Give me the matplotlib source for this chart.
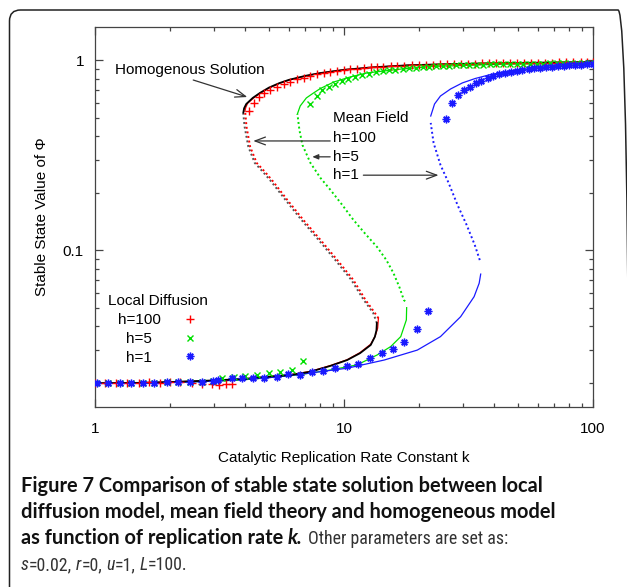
import matplotlib
matplotlib.use('Agg')
import matplotlib.pyplot as plt
from matplotlib import font_manager as fm
from matplotlib.patches import FancyBboxPatch
from matplotlib.transforms import IdentityTransform

# ---------------- data ----------------
# Homogeneous solution (black)
homo_lower_k = [1.0, 1.5, 2.0, 3.0, 4.0, 5.06, 6.09, 7.33, 8.83, 10.3, 11.6, 12.8, 13.3, 13.5, 13.55]
homo_lower_phi = [0.0200, 0.0201, 0.0203, 0.0207, 0.0211, 0.0217, 0.0221, 0.0230, 0.0247, 0.0265, 0.0288, 0.0318, 0.0351, 0.0380, 0.0415]
homo_mid_k = [13.55, 13.1, 12.0, 10.7, 9.23, 7.89, 6.74, 5.81, 5.11, 4.74, 4.38, 4.13, 3.99, 3.94]
homo_mid_phi = [0.0415, 0.0469, 0.0549, 0.070, 0.089, 0.114, 0.145, 0.185, 0.230, 0.258, 0.289, 0.351, 0.447, 0.525]
homo_up_k = [3.94, 3.97, 4.05, 4.3, 4.6, 5.0, 5.5, 6.0, 7.0, 8.0, 10.0, 13.0, 18.0, 25.0, 35.0, 50.0, 70.0, 100.0]
homo_up_phi = [0.53, 0.56, 0.59, 0.635, 0.675, 0.72, 0.76, 0.79, 0.83, 0.858, 0.893, 0.92, 0.943, 0.955, 0.964, 0.971, 0.976, 0.981]

# Mean field h=100 (red)
mf100_lower_k = [1.0, 1.5, 2.0, 3.0, 4.0, 5.06, 6.09, 7.33, 8.83, 10.3, 11.6, 12.8, 13.35, 13.65, 13.75]
mf100_lower_phi = [0.0200, 0.0201, 0.0203, 0.0207, 0.0211, 0.0217, 0.0222, 0.0231, 0.0248, 0.0266, 0.0290, 0.0321, 0.0355, 0.0390, 0.0440]
mf100_mid_k = [13.75, 13.3, 12.2, 10.9, 9.40, 8.03, 6.86, 5.91, 5.20, 4.83, 4.46, 4.20, 4.06, 4.01]
mf100_mid_phi = [0.0440, 0.0469, 0.0549, 0.070, 0.089, 0.114, 0.145, 0.185, 0.230, 0.258, 0.289, 0.351, 0.447, 0.536]
mf100_up_k = [4.0, 4.03, 4.1, 4.35, 4.65, 5.05, 5.55, 6.05, 7.05, 8.05, 10.05, 13.05, 18.0, 25.0, 35.0, 50.0, 70.0, 100.0]
mf100_up_phi = [0.54, 0.565, 0.595, 0.637, 0.677, 0.72, 0.76, 0.79, 0.83, 0.858, 0.893, 0.92, 0.943, 0.955, 0.964, 0.971, 0.976, 0.981]

# Mean field h=5 (green)
mf5_lower_k = [1.0, 2.0, 3.0, 4.0, 4.76, 6.48, 8.83, 11.3, 13.6, 15.4, 16.9, 17.8, 17.85]
mf5_lower_phi = [0.0200, 0.0202, 0.0205, 0.0209, 0.0213, 0.0221, 0.0235, 0.0250, 0.0282, 0.0312, 0.0352, 0.0431, 0.0500]
mf5_mid_k = [17.6, 17.4, 16.7, 15.8, 14.8, 13.6, 12.2, 10.9, 9.86, 8.83, 8.04, 7.33, 6.81, 6.62, 6.50]
mf5_mid_phi = [0.054, 0.0548, 0.064, 0.076, 0.089, 0.104, 0.122, 0.145, 0.173, 0.208, 0.241, 0.289, 0.359, 0.431, 0.523]
mf5_up_k = [6.50, 6.67, 7.06, 7.54, 8.04, 9.12, 10.6, 12.4, 16.8, 22.8, 42.6, 100.0]
mf5_up_phi = [0.523, 0.576, 0.635, 0.674, 0.712, 0.771, 0.819, 0.860, 0.900, 0.930, 0.955, 0.965]

# Mean field h=1 (blue)
mf1_lower_k = [1.0, 2.0, 3.0, 4.0, 5.0, 6.68, 10.3, 14.5, 19.7, 24.4, 29.4, 33.3, 34.9, 35.4]
mf1_lower_phi = [0.0200, 0.0202, 0.0205, 0.0209, 0.0214, 0.0223, 0.0240, 0.0265, 0.0299, 0.0352, 0.0448, 0.0571, 0.0672, 0.0751]
mf1_mid_k = [35.1, 33.5, 31.1, 28.6, 26.3, 24.4, 22.9, 22.3]
mf1_mid_phi = [0.089, 0.107, 0.136, 0.173, 0.227, 0.282, 0.368, 0.469]
mf1_up_k = [22.3, 23.1, 24.4, 26.8, 29.9, 33.7, 38.9, 46.7, 58.6, 74.5, 100.0]
mf1_up_phi = [0.510, 0.590, 0.650, 0.708, 0.762, 0.804, 0.844, 0.880, 0.913, 0.932, 0.950]

# Local diffusion simulations
ld100_k = [1.0, 1.1, 1.21, 1.35, 1.5, 1.65, 1.82, 2.0, 2.2, 2.45, 2.7, 2.95, 3.15, 3.35, 3.55,
           4.14, 4.34, 4.54, 4.76, 5.06, 5.38, 5.72, 6.09, 6.48, 6.88,
           7.32, 7.79, 8.29, 8.82, 9.38, 9.97, 10.6, 11.3, 12.0, 12.8,
           13.6, 14.4, 15.4, 16.4, 17.4, 18.8, 20.0, 21.4, 22.8, 24.3,
           26.0, 27.7, 29.6, 31.6, 33.7, 35.9, 38.3, 40.9, 43.6, 46.6,
           49.7, 53.0, 56.6, 60.4, 64.4, 68.7, 73.3, 78.2, 83.5, 89.1,
           95.0, 100.0]
ld100_phi = [0.0200, 0.0201, 0.0200, 0.0201, 0.0200, 0.0202, 0.0201, 0.0202, 0.0203, 0.0201, 0.0199, 0.0198, 0.0197, 0.0198, 0.0199,
             0.544, 0.595, 0.640, 0.672, 0.700, 0.728, 0.752, 0.773, 0.796, 0.812,
             0.829, 0.846, 0.859, 0.870, 0.881, 0.891, 0.899, 0.906, 0.913, 0.921,
             0.924, 0.928, 0.932, 0.935, 0.939, 0.943, 0.946, 0.949, 0.951, 0.953,
             0.955, 0.957, 0.959, 0.961, 0.963, 0.964, 0.966, 0.967, 0.968, 0.969,
             0.970, 0.971, 0.972, 0.973, 0.974, 0.975, 0.976, 0.977, 0.978, 0.979,
             0.980, 0.981]

ld5_k = [1.0, 1.13, 1.26, 1.40, 1.56, 1.73, 1.94, 2.16, 2.41, 2.68, 2.99, 3.23, 3.60, 4.01, 4.47, 4.98, 5.55, 6.18, 6.87,
         7.33, 7.8, 8.17, 8.69, 9.23, 9.81, 10.4, 11.1, 11.8, 12.6,
         13.4, 14.3, 15.2, 16.1, 17.2, 18.3, 19.4, 20.7, 22.0, 23.4,
         24.9, 26.5, 28.2, 30.0, 31.9, 34.0, 36.2, 38.5, 40.9, 43.5,
         46.3, 49.3, 52.5, 55.8, 59.4, 63.2, 67.2, 71.5, 76.1, 81.0,
         86.2, 91.7, 97.6]
ld5_phi = [0.0200, 0.0201, 0.0200, 0.0201, 0.0200, 0.0201, 0.0202, 0.0203, 0.0202, 0.0204, 0.0205, 0.0212, 0.0215, 0.0218, 0.0221, 0.0226, 0.0230, 0.0235, 0.0263,
           0.592, 0.650, 0.695, 0.725, 0.755, 0.778, 0.800, 0.820, 0.837, 0.852,
           0.865, 0.876, 0.886, 0.894, 0.902, 0.909, 0.915, 0.920, 0.925, 0.930,
           0.934, 0.938, 0.941, 0.944, 0.947, 0.949, 0.951, 0.953, 0.955, 0.957,
           0.958, 0.959, 0.960, 0.961, 0.962, 0.963, 0.964, 0.965, 0.966, 0.967,
           0.967, 0.968, 0.969]

ld1_k = [1.02, 1.13, 1.26, 1.40, 1.56, 1.73, 1.94, 2.16, 2.41, 2.68, 2.99, 3.13, 3.54, 3.88, 4.30,
         4.79, 5.37, 5.98, 6.66, 7.42, 8.26, 9.20, 10.25, 11.41, 12.72, 14.17, 15.78, 17.42, 19.59, 21.8,
         25.8, 27.2, 28.7, 30.3, 32.0, 33.8, 35.6, 37.7, 39.8, 42.0, 44.2, 46.8, 49.4,
         52.1, 55.1, 58.0, 61.4, 64.7, 68.4, 72.1, 76.2, 80.3, 84.9, 89.5, 94.6, 99.7]
ld1_phi = [0.0200, 0.0200, 0.0200, 0.0200, 0.0201, 0.0201, 0.0202, 0.0203, 0.0203, 0.0204, 0.0206, 0.0207, 0.0212, 0.0212, 0.0212,
           0.0214, 0.0217, 0.0223, 0.0220, 0.0229, 0.0233, 0.0240, 0.0247, 0.0253, 0.0271, 0.0288, 0.0302, 0.0329, 0.0385, 0.0482,
           0.49, 0.60, 0.658, 0.70, 0.728, 0.759, 0.783, 0.806, 0.829, 0.846, 0.857, 0.870, 0.883,
           0.891, 0.902, 0.910, 0.916, 0.924, 0.928, 0.935, 0.939, 0.943, 0.947, 0.950, 0.955, 0.958]

legend_labels = ['h=100', 'h=5', 'h=1']
x_ticks = [1, 10, 100]
x_tick_labels = ['1', '10', '100']
y_ticks = [0.1, 1]
y_tick_labels = ['0.1', '1']

# ---------------- figure ----------------
W, H = 627, 587
fig = plt.figure(figsize=(W / 100, H / 100), dpi=100)
ax = fig.add_axes([95 / W, 1 - 407 / H, (593 - 95) / W, (407 - 27) / H])
ax.set_xscale('log')
ax.set_yscale('log')
ax.set_xlim(1, 100)
ax.set_ylim(0.015, 1.5)

FONT = 'Liberation Sans'
FS = 11
RED, GREEN, BLUE = '#ff0000', '#00e000', '#1a1aff'
dot = (0, (1, 1.4))

ax.plot(homo_lower_k, homo_lower_phi, color='black', lw=1.3, zorder=3)
ax.plot(homo_mid_k, homo_mid_phi, color='#555555', lw=1.4, ls=dot, zorder=2)
ax.plot(homo_up_k, homo_up_phi, color='black', lw=1.3, zorder=3)

for (lk, lp, mk, mp, uk, up, c) in [
        (mf100_lower_k, mf100_lower_phi, mf100_mid_k, mf100_mid_phi, mf100_up_k, mf100_up_phi, RED),
        (mf5_lower_k, mf5_lower_phi, mf5_mid_k, mf5_mid_phi, mf5_up_k, mf5_up_phi, GREEN),
        (mf1_lower_k, mf1_lower_phi, mf1_mid_k, mf1_mid_phi, mf1_up_k, mf1_up_phi, BLUE)]:
    ax.plot(lk, lp, color=c, lw=0.9, zorder=2.5)
    ax.plot(mk, mp, color=c, lw=1.4, ls=dot, zorder=2.5)
    ax.plot(uk, up, color=c, lw=0.9, zorder=2.5)

h100, = ax.plot(ld100_k, ld100_phi, ls='none', marker='+', ms=6, mew=1.0, color=RED, zorder=4)
h5, = ax.plot(ld5_k, ld5_phi, ls='none', marker='x', ms=5, mew=1.0, color=GREEN, zorder=4)
h1, = ax.plot(ld1_k, ld1_phi, ls='none', marker=(8, 2, 0), ms=5.5, mew=1.0, color=BLUE, zorder=4)

# axes styling
for s in ax.spines.values():
    s.set_color('#444444')
    s.set_linewidth(0.9)
ax.set_xticks(x_ticks)
ax.set_xticklabels(x_tick_labels)
ax.set_xticks([2, 3, 4, 5, 6, 7, 8, 9, 20, 30, 40, 50, 60, 70, 80, 90], minor=True)
ax.set_yticks(y_ticks)
ax.set_yticklabels(y_tick_labels)
ax.set_yticks([0.02, 0.03, 0.04, 0.05, 0.06, 0.07, 0.08, 0.09, 0.2, 0.3, 0.4, 0.5, 0.6, 0.7, 0.8, 0.9], minor=True)
ax.yaxis.set_minor_formatter(plt.NullFormatter())
ax.xaxis.set_minor_formatter(plt.NullFormatter())
ax.tick_params(which='both', direction='in', top=True, right=True, color='#444444', width=0.9)
ax.tick_params(which='major', length=6)
ax.tick_params(which='minor', length=3)
ax.tick_params(axis='x', which='major', pad=10.5)
ax.tick_params(axis='y', which='major', pad=8)
for lab in ax.get_xticklabels() + ax.get_yticklabels():
    lab.set_fontfamily(FONT)
    lab.set_fontsize(FS)

ax.set_xlabel('Catalytic Replication Rate Constant k', fontfamily=FONT, fontsize=FS)
ax.xaxis.set_label_coords(0.5, -0.116)
ax.set_ylabel('Stable State Value of Φ', fontfamily=FONT, fontsize=FS)
ax.yaxis.set_label_coords(-0.092, 0.5)

# annotations
tk = dict(fontfamily=FONT, fontsize=FS, va='center', ha='left')
ax.text(1.204, 0.891, 'Homogenous Solution', **tk)
ax.text(9.07, 0.495, 'Mean Field', **tk)
ax.text(9.07, 0.393, 'h=100', **tk)
ax.text(9.07, 0.312, 'h=5', **tk)
ax.text(9.07, 0.249, 'h=1', **tk)
arw = dict(arrowstyle='->,head_length=0.75,head_width=0.28', color='#333333', lw=0.9, shrinkA=0, shrinkB=0)
ax.annotate('', xy=(4.09, 0.642), xytext=(2.48, 0.789), arrowprops=arw)
ax.annotate('', xy=(4.32, 0.377), xytext=(8.80, 0.377), arrowprops=arw)
ax.annotate('', xy=(7.46, 0.311), xytext=(8.80, 0.311),
            arrowprops=dict(arrowstyle='-|>,head_length=0.35,head_width=0.15', color='#333333', lw=0.9,
                            shrinkA=0, shrinkB=0))
ax.annotate('', xy=(23.97, 0.249), xytext=(11.96, 0.249), arrowprops=arw)

# legend: keys via matplotlib legend, labels re-drawn centred like gnuplot
ax.text((108 - 95) / 498, (407 - 301) / 380, 'Local Diffusion', transform=ax.transAxes,
        fontfamily=FONT, fontsize=FS, ha='left', va='center')
leg = ax.legend(handles=[h100, h5, h1], labels=legend_labels, loc='upper left',
                bbox_to_anchor=((117 - 95) / 498, (407 - 313) / 380), frameon=False,
                markerfirst=False, prop={'family': FONT, 'size': FS},
                borderpad=0, borderaxespad=0, labelspacing=0.32, handlelength=2.0, handletextpad=0.95)
fig.canvas.draw()
renderer = fig.canvas.get_renderer()
centres = []
for t in leg.get_texts():
    bb = t.get_window_extent(renderer)
    centres.append(((bb.y0 + bb.y1) / 2, t.get_text()))
for t in leg.get_texts():
    t.set_visible(False)
for cy, s in centres:
    fig.text(139 / W, cy / H, s, fontfamily=FONT, fontsize=FS, ha='center', va='center')

# border
box = FancyBboxPatch((9.5, -30), 629 - 9.5, (587 - 10) + 30, boxstyle='round,pad=0,rounding_size=11',
                     transform=IdentityTransform(), fill=False, ec='#222222', lw=1.1)
fig.add_artist(box)

# caption
CF = 'Lato'


def pick_regular_font():
    for fam, stretch in [('Roboto Condensed', 'normal'), ('Open Sans', 'condensed'),
                         ('Noto Sans', 'condensed'), ('Liberation Sans Narrow', 'normal')]:
        try:
            path = fm.findfont(fm.FontProperties(family=fam, stretch=stretch), fallback_to_default=False)
        except Exception:
            continue
        low = path.lower()
        if stretch == 'condensed' and 'condensed' not in low:
            continue
        if fam == 'Liberation Sans Narrow' and 'narrow' not in low:
            continue
        return fam, stretch
    return CF, 'normal'


RF, RSTRETCH = pick_regular_font()


def fx(px):
    return px / W


def fy(py):
    return 1 - py / H


def text_w(s, size, family, **kw):
    t = fig.text(0, 0, s, fontfamily=family, fontsize=size, **kw)
    w = t.get_window_extent(renderer).width
    t.remove()
    return w


CS = 12 * 520 / text_w('Figure 7 Comparison of stable state solution between local', 12, CF, fontweight='bold')
RS = 12 * 167 / text_w('s=0.02, r=0, u=1, L=100.', 12, RF, fontstretch=RSTRETCH)
RS = max(min(RS, CS * 1.05), CS * 0.82)


def draw_runs(x_px, base_px, runs):
    x = x_px
    for s, kw in runs:
        kw = dict(kw)
        fam = kw.pop('family', CF)
        size = kw.pop('size', CS)
        if s == ' ':
            x += text_w('x x', size, fam, **kw) - text_w('xx', size, fam, **kw)
            continue
        t = fig.text(fx(x), fy(base_px), s, fontfamily=fam, fontsize=size, va='baseline', ha='left', **kw)
        x += t.get_window_extent(renderer).width


B = dict(fontweight='bold', color='#111111')
BI = dict(fontweight='bold', fontstyle='italic', color='#111111')
L = dict(family=RF, size=RS, fontstretch=RSTRETCH, fontweight='normal', color='#333333')
LI = dict(family=RF, size=RS, fontstretch=RSTRETCH, fontweight='normal', fontstyle='italic', color='#333333')
draw_runs(21, 492, [('Figure 7 Comparison of stable state solution between local', B)])
draw_runs(21, 518, [('diffusion model, mean field theory and homogeneous model', B)])
draw_runs(21, 544, [('as function of replication rate', B), (' ', B), ('k.', BI), (' ', B),
                    ('Other parameters are set as:', L)])
draw_runs(21, 570, [('s', LI), ('=0.02,', L), (' ', L), ('r', LI), ('=0,', L), (' ', L), ('u', LI),
                    ('=1,', L), (' ', L), ('L', LI), ('=100.', L)])

fig.savefig('out.png', dpi=100)
